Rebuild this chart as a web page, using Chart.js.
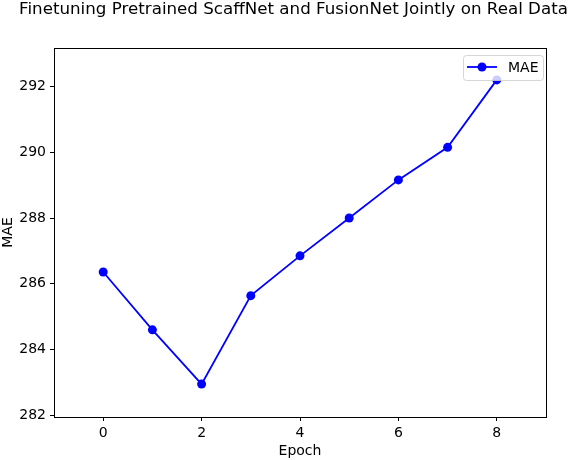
<!DOCTYPE html>
<html>
<head>
<meta charset="utf-8">
<script src="https://cdn.jsdelivr.net/npm/chart.js@4/dist/chart.umd.min.js"></script>
<style>
  html, body { margin: 0; padding: 0; background: #fff; }
  canvas { display: block; }
</style>
</head>
<body>
<canvas id="mae_chart" width="568" height="460"></canvas>
<script>
const chartTitle = 'Finetuning Pretrained ScaffNet and FusionNet Jointly on Real Data';
const epochs = [0, 1, 2, 3, 4, 5, 6, 7, 8];
const mae = [286.36, 284.60, 282.95, 285.64, 286.85, 288.00, 289.16, 290.15, 292.20];
const xTicks = [0, 2, 4, 6, 8];
const yTicks = [282, 284, 286, 288, 290, 292];
const seriesLabel = 'MAE';
const FONT = 'DejaVu Sans';

// matplotlib style frame round the plot area
const framePlugin = {
	id: 'frame',
	afterDatasetsDraw(chart) {
		const a = chart.chartArea;
		const ctx = chart.ctx;
		ctx.save();
		ctx.strokeStyle = '#000';
		ctx.lineWidth = 1;
		ctx.strokeRect(Math.round(a.left) + 0.5, Math.round(a.top) + 0.5,
			Math.round(a.right - a.left), Math.round(a.bottom - a.top));
		ctx.restore();
	}
};

const titlePlugin = {
	id: 'mplTitle',
	afterDraw(chart) {
		const ctx = chart.ctx;
		ctx.save();
		ctx.fillStyle = '#000';
		ctx.font = `16.7px "${FONT}"`;
		ctx.textAlign = 'left';
		ctx.textBaseline = 'alphabetic';
		// left edge and right edge as in the picture (20 .. 567)
		const w = ctx.measureText(chartTitle).width;
		ctx.fillText(chartTitle, 293.5 - w / 2, 14);
		ctx.restore();
	}
};

const legendPlugin = {
	id: 'mplLegend',
	afterDraw(chart) {
		const ctx = chart.ctx;
		const a = chart.chartArea;
		const ds = chart.data.datasets[0];
		const x0 = a.right - 83, y0 = a.top + 7, w = 80, h = 25;
		ctx.save();
		ctx.beginPath();
		ctx.roundRect(x0 + 0.5, y0 + 0.5, w, h, 3);
		ctx.fillStyle = 'rgba(255,255,255,0.8)';
		ctx.fill();
		ctx.strokeStyle = 'rgba(204,204,204,0.8)';
		ctx.lineWidth = 1;
		ctx.stroke();
		const ly = y0 + 12;
		ctx.strokeStyle = ds.borderColor;
		ctx.lineWidth = ds.borderWidth;
		ctx.beginPath();
		ctx.moveTo(x0 + 4, ly);
		ctx.lineTo(x0 + 34, ly);
		ctx.stroke();
		ctx.fillStyle = ds.pointBackgroundColor;
		ctx.beginPath();
		ctx.arc(x0 + 19, ly, ds.pointRadius, 0, Math.PI * 2);
		ctx.fill();
		ctx.fillStyle = '#000';
		ctx.font = `14px "${FONT}"`;
		ctx.textBaseline = 'middle';
		ctx.fillText(ds.label, x0 + 45, ly + 1);
		ctx.restore();
	}
};

new Chart(document.getElementById('mae_chart'), {
	type: 'line',
	data: {
		datasets: [{
			label: seriesLabel,
			data: epochs.map((e, i) => ({ x: e, y: mae[i] })),
			borderColor: '#0000ff',
			backgroundColor: '#0000ff',
			pointBackgroundColor: '#0000ff',
			pointBorderColor: '#0000ff',
			borderWidth: 1.8,
			pointRadius: 4.5,
			pointBorderWidth: 0,
			tension: 0
		}]
	},
	options: {
		responsive: false,
		animation: false,
		devicePixelRatio: 1,
		layout: { padding: { left: 0, top: 48, right: 22, bottom: 0 } },
		plugins: {
			legend: { display: false },
			title: { display: false },
			tooltip: { enabled: false }
		},
		scales: {
			x: {
				type: 'linear',
				min: -1,
				max: 9,
				afterBuildTicks: s => { s.ticks = xTicks.map(v => ({ value: v })); },
				afterFit: s => { s.height = 43; },
				grid: { drawOnChartArea: false, tickLength: 4, tickColor: '#000' },
				border: { display: false },
				ticks: { color: '#000', font: { family: FONT, size: 14 }, padding: 4, maxRotation: 0 },
				title: { display: true, text: 'Epoch', color: '#000', font: { family: FONT, size: 14 }, padding: { top: 0, bottom: 0 } }
			},
			y: {
				min: 281.95,
				max: 293.17,
				afterBuildTicks: s => { s.ticks = yTicks.map(v => ({ value: v })); },
				afterFit: s => { s.width = 54; },
				grid: { drawOnChartArea: false, tickLength: 4, tickColor: '#000' },
				border: { display: false },
				ticks: { color: '#000', font: { family: FONT, size: 14 }, padding: 4 },
				title: { display: true, text: 'MAE', color: '#000', font: { family: FONT, size: 14 }, padding: { top: 0, bottom: 0 } }
			}
		}
	},
	plugins: [framePlugin, titlePlugin, legendPlugin]
});
</script>
</body>
</html>
